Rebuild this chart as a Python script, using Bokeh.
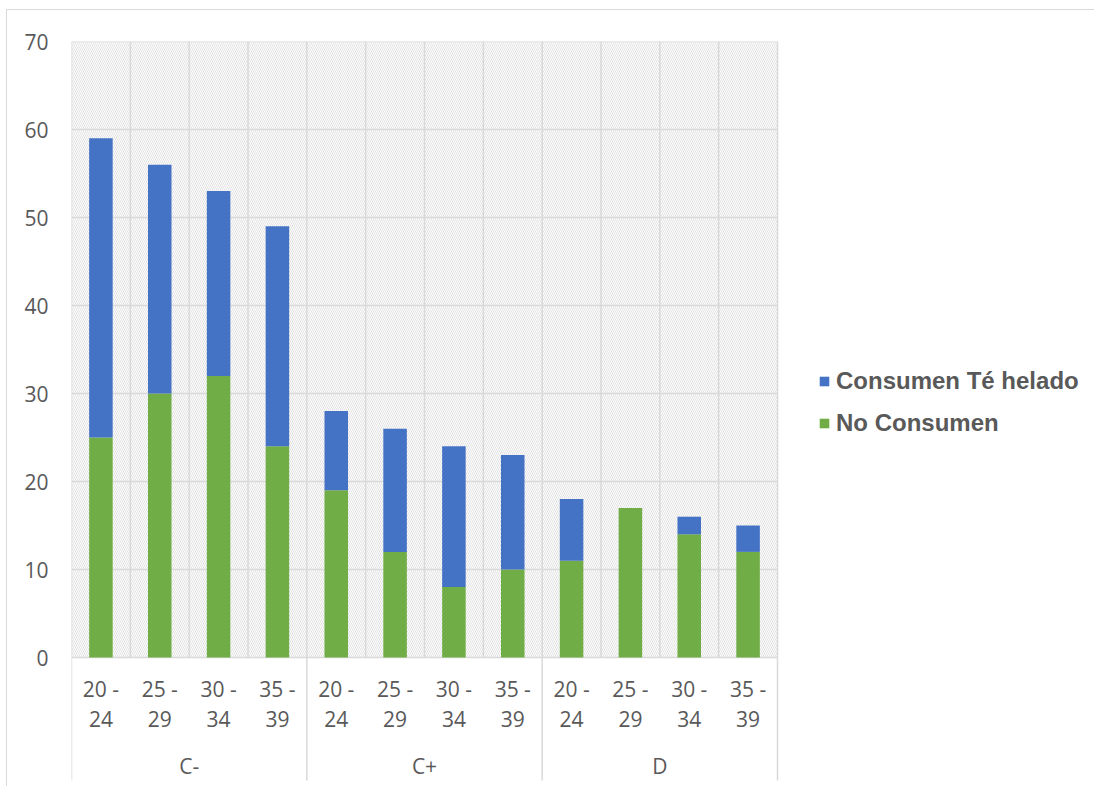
from bokeh.plotting import figure
from bokeh.models import (ColumnDataSource, Range1d, FixedTicker, Legend, LegendItem)
from bokeh.core.properties import value
from bokeh.embed import file_html
from bokeh.resources import INLINE

# ---------------- data ----------------
groups = ["C-", "C+", "D"]
ages = ["20 -\n24", "25 -\n29", "30 -\n34", "35 -\n39"]
no_consumen = [25, 30, 32, 24, 19, 12, 8, 10, 11, 17, 14, 12]
consumen_te = [34, 26, 21, 25, 9, 14, 16, 13, 7, 0, 2, 3]
y_ticks = [0, 10, 20, 30, 40, 50, 60, 70]
series_names = ["Consumen Té helado", "No Consumen"]

BLUE = "#4472C4"
GREEN = "#70AD47"
GRID = "#d9d9d9"
HATCH = "#e2e2e2"
TEXT = "#595959"

# ---------------- layout (page pixels) ----------------
FIG_LEFT, FIG_TOP = 7, 10
FIG_W, FIG_H = 1094 - FIG_LEFT, 786 - FIG_TOP
FRAME_LEFT, FRAME_TOP = 71, 41
AXIS_RIGHT_PX, ZERO_PX = 777, 657
YMAX = 70
n_cat = len(groups) * len(ages)
px_per_cat = (AXIS_RIGHT_PX - FRAME_LEFT) / n_cat
px_per_unit = (ZERO_PX - FRAME_TOP) / YMAX


def py(page_y):
    return (ZERO_PX - page_y) / px_per_unit


x_end = (1094 - FRAME_LEFT) / px_per_cat
y_start = py(786)

p = figure(width=FIG_W, height=FIG_H, output_backend="svg", toolbar_location=None,
           x_range=Range1d(0, x_end), y_range=Range1d(y_start, YMAX),
           min_border=0, min_border_left=FRAME_LEFT - FIG_LEFT,
           min_border_top=FRAME_TOP - FIG_TOP, min_border_right=0, min_border_bottom=0)
p.margin = (FIG_TOP, 0, 0, FIG_LEFT)
p.styles = {"outline": "1px solid #d9d9d9"}
p.outline_line_color = None
p.xaxis.visible = False
p.xgrid.visible = False
p.ygrid.visible = False
p.yaxis.ticker = FixedTicker(ticks=y_ticks)
p.yaxis.axis_line_color = None
p.yaxis.major_tick_line_color = None
p.yaxis.minor_tick_line_color = None
p.yaxis.major_tick_out = 0
p.yaxis.minor_tick_out = 0
p.yaxis.major_label_standoff = 23
p.yaxis.major_label_text_font = "Open Sans"
p.yaxis.major_label_text_font_size = "21px"
p.yaxis.major_label_text_color = TEXT

# hatched plot area
p.quad(left=[0], right=[n_cat], bottom=[0], top=[YMAX], fill_color="white",
       line_color=None, hatch_pattern="\\", hatch_color=HATCH, hatch_scale=4, hatch_weight=1)

# horizontal gridlines
hy = [t for t in y_ticks if t > 0]
p.segment(x0=[0] * len(hy), x1=[n_cat] * len(hy), y0=hy, y1=hy, line_color=GRID, line_width=1.5)
# vertical category gridlines
vx = list(range(0, n_cat + 1))
p.segment(x0=vx, x1=vx, y0=[0] * len(vx), y1=[YMAX] * len(vx), line_color=GRID, line_width=1.5)
# axis line
p.segment(x0=[0], x1=[n_cat], y0=[0], y1=[0], line_color=GRID, line_width=1.5)
# group separators below the axis
sx = list(range(0, n_cat + 1, len(ages)))
p.segment(x0=sx, x1=sx, y0=[0] * len(sx), y1=[py(780)] * len(sx), line_color=GRID, line_width=1.5)

# bars
xs = [i + 0.5 for i in range(n_cat)]
src = ColumnDataSource(dict(x=xs, no=no_consumen, si=consumen_te))
rs = p.vbar_stack(["no", "si"], x="x", width=0.4, color=[GREEN, BLUE], line_color=None, source=src)

# category labels
age_labels = ages * len(groups)
p.text(x=xs, y=[py(703.5)] * n_cat, text=age_labels, text_align="center", text_baseline="middle",
       text_font=value("Open Sans"), text_font_size="21px", text_color=TEXT, text_line_height=1.07)
gx = [(g + 0.5) * len(ages) for g in range(len(groups))]
p.text(x=gx, y=[py(765)] * len(groups), text=groups, text_align="center", text_baseline="middle",
       text_font=value("Open Sans"), text_font_size="21px", text_color=TEXT)

legend = Legend(items=[LegendItem(label=series_names[0], renderers=[rs[1]]),
                       LegendItem(label=series_names[1], renderers=[rs[0]])],
                location=(818 - FRAME_LEFT, 786 - 437), orientation="vertical",
                glyph_width=12, glyph_height=12, label_standoff=6, spacing=14, label_height=24,
                padding=0, margin=0, border_line_color=None, background_fill_alpha=0,
                label_text_font="Liberation Sans", label_text_font_style="bold",
                label_text_font_size="24px", label_text_color=TEXT)
p.add_layout(legend)

open("out.html", "w").write(file_html(p, INLINE))
